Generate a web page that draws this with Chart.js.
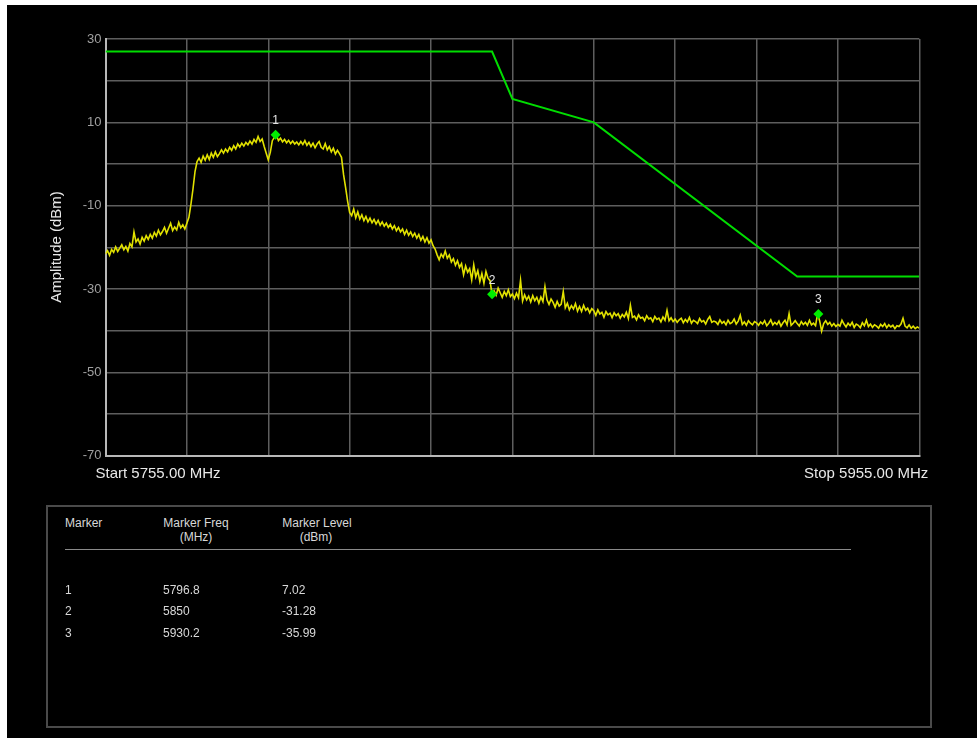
<!DOCTYPE html>
<html>
<head>
<meta charset="utf-8">
<script src="https://cdn.jsdelivr.net/npm/chart.js@4/dist/chart.umd.min.js"></script>
<style>
  html, body { margin: 0; padding: 0; background: #fff; }
  body { width: 977px; height: 738px; position: relative; overflow: hidden; font-family: "Liberation Sans", Arial, sans-serif; }
  #panel { position: absolute; left: 7px; top: 5px; width: 970px; height: 733px; background: #000; }
  #spectrum { position: absolute; left: 0; top: 0; }
  #ytitle { position: absolute; left: 55px; top: 247px; transform: translate(-50%, -50%) rotate(-90deg); color: #e8e8e8; font-size: 15px; white-space: nowrap; }
  #markerBox { position: absolute; left: 46px; top: 505px; width: 882px; height: 219px; border: 2px solid #4a4a4a; }
  .cell { position: absolute; color: #d8d8d8; font-size: 12px; line-height: 14px; height: 14px; white-space: nowrap; }
  .rule { position: absolute; left: 65px; top: 549px; width: 786px; height: 1px; background: #8a8a8a; }
</style>
</head>
<body>
<div id="panel"></div>
<canvas id="spectrum" width="977" height="500"></canvas>
<div id="ytitle">Amplitude (dBm)</div>
<div id="markerBox"></div>
<div id="markerTable"></div>

<script>
// sweep settings (MHz)
const sweepStart = 5755;
const sweepStop = 5955;
const sweepStep = 0.5;

// measured trace, dBm, one value per 0.5 MHz from 5755 to 5955
const traceLevels = [
  -21.6, -20.8, -21.9, -20.5, -21.2, -19.9, -21.0, -20.2, -19.4, -20.6, -19.8, -20.9, -19.1, -19.9, -16.3, -18.7, -18.0, -19.2, -17.6, -18.5,
  -17.2, -18.1, -16.9, -17.8, -16.4, -17.3, -15.9, -17.0, -16.2, -15.2, -16.6, -15.4, -14.2, -16.0, -15.1, -15.8, -14.0, -15.3, -14.6, -15.6,
  -14.2, -12.8, -9.6, -6.0, -1.8, 0.6, 1.4, 0.4, 1.9, 0.9, 2.2, 1.1, 2.6, 1.6, 2.9, 1.8, 2.5, 3.4, 2.6, 3.6,
  2.9, 4.0, 3.3, 4.4, 3.6, 4.8, 4.1, 5.0, 4.3, 5.2, 4.6, 5.5, 4.8, 5.9, 5.2, 6.6, 5.4, 6.0, 4.2, 2.6,
  1.0, 2.8, 5.6, 6.4, 7.0, 5.6, 6.2, 5.3, 5.9, 5.1, 5.7, 4.9, 5.5, 4.8, 5.3, 4.6, 5.4, 4.7, 5.6, 4.5,
  5.2, 4.2, 5.0, 3.9, 4.8, 5.4, 4.0, 3.6, 4.9, 3.4, 4.2, 2.9, 3.8, 2.4, 3.3, 2.5, 1.6, -2.5, -5.6, -8.9,
  -11.6, -12.4, -10.8, -12.9, -11.5, -13.2, -12.2, -13.6, -12.6, -13.9, -13.0, -14.1, -13.3, -14.4, -13.5, -14.7, -13.9, -14.9, -14.2, -15.2,
  -14.5, -15.6, -14.8, -16.0, -15.2, -16.3, -15.6, -16.9, -15.9, -17.1, -16.3, -17.4, -16.6, -17.8, -16.9, -18.3, -17.4, -18.7, -17.7, -19.0,
  -18.2, -19.6, -20.4, -21.8, -23.0, -21.6, -22.4, -20.9, -22.6, -21.8, -23.5, -22.7, -24.3, -23.2, -24.8, -23.9, -26.6, -24.5, -26.0, -25.1,
  -27.8, -24.2, -27.1, -25.6, -28.2, -26.3, -28.6, -25.8, -27.4, -28.0, -31.3, -30.4, -31.5, -29.8, -30.9, -32.0, -30.6, -31.6, -30.2, -31.8,
  -31.2, -32.3, -31.0, -32.1, -27.9, -32.9, -31.4, -32.6, -31.7, -33.1, -31.6, -32.8, -32.0, -33.4, -31.9, -33.0, -29.4, -32.6, -33.7, -32.4,
  -33.2, -34.4, -33.0, -34.1, -33.6, -30.6, -34.5, -33.4, -35.0, -34.0, -34.8, -33.5, -35.3, -34.2, -35.4, -33.9, -35.1, -34.6, -35.7, -34.7,
  -35.2, -36.3, -35.0, -36.0, -35.6, -36.8, -35.4, -36.2, -35.8, -36.9, -35.7, -36.4, -35.9, -37.0, -36.1, -36.7, -35.6, -37.1, -33.9, -36.8,
  -36.5, -37.4, -36.2, -37.0, -36.8, -37.6, -36.4, -37.2, -36.9, -37.8, -36.6, -37.3, -37.0, -37.9, -36.7, -37.5, -35.1, -37.6, -36.9, -37.8,
  -37.2, -38.0, -37.4, -37.0, -38.1, -37.3, -37.9, -36.8, -38.2, -37.5, -37.8, -38.3, -37.1, -37.9, -37.6, -38.4, -37.3, -36.6, -38.0, -37.7,
  -37.9, -38.5, -37.4, -38.2, -37.8, -38.6, -37.5, -38.3, -38.0, -37.2, -38.4, -37.7, -36.3, -38.5, -37.9, -38.7, -37.6, -38.2, -38.6, -37.8,
  -38.1, -38.7, -37.9, -38.4, -37.6, -38.8, -38.2, -37.4, -38.6, -38.0, -38.5, -37.7, -38.9, -38.1, -37.5, -38.6, -35.9, -38.7, -38.2, -37.6,
  -38.3, -38.9, -37.8, -38.5, -38.0, -38.7, -37.5, -38.6, -38.2, -38.8, -36.0, -37.6, -40.1, -38.3, -37.6, -38.5, -38.0, -38.9, -38.3, -39.0,
  -38.5, -38.9, -37.5, -38.4, -39.1, -38.2, -38.8, -38.0, -39.2, -38.4, -38.7, -39.3, -38.1, -38.8, -37.5, -39.0, -38.4, -39.2, -38.6, -38.9,
  -39.4, -38.5, -39.0, -38.3, -39.3, -38.6, -39.1, -38.7, -39.5, -38.8, -39.0, -38.4, -37.0, -38.9, -39.3, -38.6, -39.4, -38.9, -39.5, -39.1,
  -39.4
];

// emission limit mask
const maskFreqs = [5755, 5850, 5855, 5875, 5925, 5955];
const maskLevels = [27, 27, 15.6, 10, -27, -27];

// markers
const markerFreqs = [5796.8, 5850, 5930.2];
const markerLevels = [7.02, -31.28, -35.99];

// y axis
const yMin = -70;
const yMax = 30;

const tracePoints = traceLevels.map((v, i) => ({ x: sweepStart + i * sweepStep, y: v }));
const maskPoints = maskFreqs.map((f, i) => ({ x: f, y: maskLevels[i] }));
const markerPoints = markerFreqs.map((f, i) => ({ x: f, y: markerLevels[i] }));

const overlayPlugin = {
  id: 'overlay',
  afterDatasetsDraw(chart) {
    const c = chart.ctx;
    const area = chart.chartArea;
    c.save();
    // marker numbers
    const meta = chart.getDatasetMeta(0);
    c.font = '12px "Liberation Sans", Arial, sans-serif';
    c.fillStyle = '#e6e6e6';
    c.textAlign = 'center';
    c.textBaseline = 'middle';
    meta.data.forEach((pt, i) => {
      c.fillText(String(i + 1), pt.x, pt.y - 14);
    });
    // start / stop labels
    c.font = '15px "Liberation Sans", Arial, sans-serif';
    c.fillStyle = '#e8e8e8';
    c.textAlign = 'left';
    c.fillText('Start ' + sweepStart.toFixed(2) + ' MHz', area.left - 10, area.bottom + 18);
    c.textAlign = 'right';
    c.fillText('Stop ' + sweepStop.toFixed(2) + ' MHz', area.right + 9, area.bottom + 18);
    c.restore();
  }
};

new Chart(document.getElementById('spectrum'), {
  type: 'scatter',
  data: {
    datasets: [
      {
        data: markerPoints,
        pointStyle: 'rectRot',
        pointRadius: 5,
        backgroundColor: '#00ee00',
        borderColor: '#00ee00',
        borderWidth: 0,
        showLine: false
      },
      {
        data: maskPoints,
        showLine: true,
        borderColor: '#00dd00',
        borderWidth: 2,
        pointRadius: 0,
        tension: 0
      },
      {
        data: tracePoints,
        showLine: true,
        borderColor: '#e2e200',
        borderWidth: 1.6,
        pointRadius: 0,
        tension: 0
      }
    ]
  },
  options: {
    responsive: false,
    animation: false,
    layout: { padding: { left: 0, top: 39, right: 57.7, bottom: 44.3 } },
    plugins: { legend: { display: false }, tooltip: { enabled: false } },
    scales: {
      x: {
        type: 'linear',
        min: sweepStart,
        max: sweepStop,
        ticks: { stepSize: 20, display: false },
        grid: { color: '#5e5e5e', lineWidth: 1.5, drawTicks: false },
        border: { color: '#b8b8b8', width: 2 },
        afterFit(scale) { scale.height = 0; }
      },
      y: {
        min: yMin,
        max: yMax,
        ticks: {
          stepSize: 10,
          padding: 4,
          color: '#a0a0a0',
          font: { size: 13, family: '"Liberation Sans", Arial, sans-serif' },
          callback: (v) => (Math.abs(v - yMax) % 20 === 0 ? String(v) : '')
        },
        grid: { color: '#5e5e5e', lineWidth: 1.5, drawTicks: false },
        border: { color: '#b8b8b8', width: 2 },
        afterFit(scale) { scale.width = 105.5; }
      }
    }
  },
  plugins: [overlayPlugin]
});

// marker table
const table = document.getElementById('markerTable');
function addCell(text, left, centerY, align) {
  const d = document.createElement('div');
  d.className = 'cell';
  d.textContent = text;
  d.style.top = (centerY - 7) + 'px';
  if (align === 'center') {
    d.style.left = (left - 60) + 'px';
    d.style.width = '120px';
    d.style.textAlign = 'center';
  } else {
    d.style.left = left + 'px';
  }
  table.appendChild(d);
}
addCell('Marker', 65, 523);
addCell('Marker Freq', 196, 523, 'center');
addCell('(MHz)', 196, 537, 'center');
addCell('Marker Level', 317, 523, 'center');
addCell('(dBm)', 316, 537, 'center');
const rule = document.createElement('div');
rule.className = 'rule';
table.appendChild(rule);
const rowY = [590, 611, 633];
markerFreqs.forEach((f, i) => {
  addCell(String(i + 1), 65, rowY[i]);
  addCell(String(f), 163, rowY[i]);
  addCell(markerLevels[i].toFixed(2), 282, rowY[i]);
});
</script>
</body>
</html>
